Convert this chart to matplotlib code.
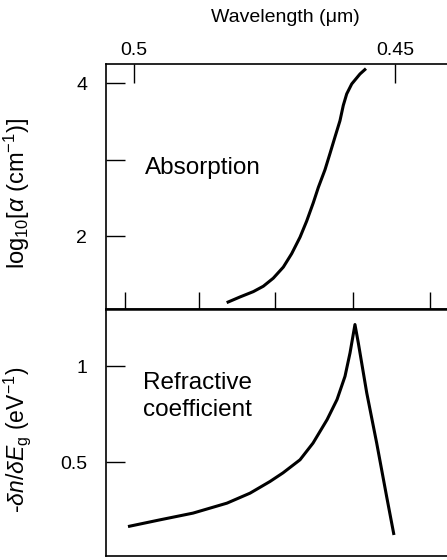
import matplotlib
matplotlib.use('Agg')
import matplotlib.pyplot as plt

plt.rcParams['font.family'] = ['Liberation Sans', 'DejaVu Sans']
plt.rcParams['mathtext.fontset'] = 'custom'
plt.rcParams['mathtext.rm'] = 'Liberation Sans'
plt.rcParams['mathtext.it'] = 'Liberation Sans:italic'

# photon energy (eV) vs log10 of absorption coefficient
abs_energy = [2.5782, 2.5922, 2.6063, 2.6168, 2.6273, 2.6379, 2.6467, 2.6555, 2.6625, 2.6695,
              2.6748, 2.6818, 2.6871, 2.6924, 2.6976, 2.7011, 2.7047, 2.7100, 2.7187, 2.7250]
abs_log_alpha = [1.136, 1.210, 1.280, 1.350, 1.455, 1.600, 1.775, 1.990, 2.200, 2.440,
                 2.640, 2.870, 3.083, 3.300, 3.510, 3.710, 3.860, 3.990, 4.120, 4.190]

# photon energy (eV) vs refractive coefficient -dn/dEg (1/eV)
ref_energy = [2.4742, 2.5079, 2.5427, 2.5785, 2.6028, 2.6239, 2.6376, 2.6555, 2.6692, 2.6840,
              2.6945, 2.7029, 2.7082, 2.7134, 2.7169, 2.7258, 2.7363, 2.7468, 2.7545]
ref_coeff = [0.165, 0.200, 0.235, 0.287, 0.339, 0.400, 0.445, 0.513, 0.600, 0.722,
             0.827, 0.948, 1.070, 1.218, 1.123, 0.862, 0.600, 0.321, 0.121]

wavelength_ticks = [0.5, 0.45]          # um
wavelength_labels = ['0.5', '0.45']
energy_ticks = [2.471, 2.549, 2.629, 2.711, 2.7925]   # unlabelled ticks on shared edge

xlim = (2.4510, 2.8104)

fig = plt.figure(figsize=(4.47, 5.6), dpi=100)
ax1 = fig.add_axes([0.2371, 0.4482, 0.7629, 0.4375])
ax2 = fig.add_axes([0.2371, 0.00714, 0.7629, 0.4411])

# --- absorption panel
ax1.plot(abs_energy, abs_log_alpha, color='black', lw=2.2, solid_capstyle='butt')
ax1.set_xlim(*xlim)
ax1.set_ylim(1.053, 4.25)
ax1.set_yticks([2, 3, 4])
ax1.set_yticklabels(['2', '', '4'])
ax1.tick_params(axis='y', direction='in', length=14, width=1, pad=13.5, labelsize=14)
ax1.xaxis.tick_top()
ax1.set_xticks([1.24 / w for w in wavelength_ticks])
ax1.set_xticklabels(wavelength_labels)
ax1.tick_params(axis='x', direction='in', length=14, width=1, pad=3.5, labelsize=14,
                top=True, bottom=False)
ax1.spines['right'].set_visible(False)
ax1.spines['bottom'].set_linewidth(1.8)
for s in ['left', 'top']:
    ax1.spines[s].set_linewidth(1.2)
ax1.set_ylabel(r'log$_{10}$[$\alpha$ (cm$^{-1}$)]', fontsize=17)
ax1.yaxis.set_label_coords(-0.217, 0.471)
ax1.text(0.1144, 0.5755, 'Absorption', transform=ax1.transAxes, fontsize=17.5, va='center')

fig.text(285 / 447, 1 - 18 / 560, 'Wavelength (μm)', fontsize=14, ha='center', va='center')

# energy ticks along the shared edge, pointing up into the absorption panel
sec = ax1.secondary_xaxis('bottom')
sec.set_xticks(energy_ticks)
sec.set_xticklabels([])
sec.tick_params(direction='in', length=12.5, width=1)
sec.spines['bottom'].set_visible(False)

# --- refractive coefficient panel
ax2.plot(ref_energy, ref_coeff, color='black', lw=2.2, solid_capstyle='butt')
ax2.set_xlim(*xlim)
ax2.set_ylim(0.0115, 1.299)
ax2.set_yticks([0.5, 1])
ax2.set_yticklabels(['0.5', '1'])
ax2.tick_params(axis='y', direction='in', length=14, width=1, pad=13.5, labelsize=14)
ax2.set_xticks([])
ax2.spines['right'].set_visible(False)
ax2.spines['top'].set_linewidth(1.8)
for s in ['left', 'bottom']:
    ax2.spines[s].set_linewidth(1.2)
ax2.set_ylabel(r'-$\delta n/\delta E_{\rm g}$ (eV$^{-1}$)', fontsize=16.5)
ax2.yaxis.set_label_coords(-0.214, 0.47)
ax2.text(0.1085, 0.6457, 'Refractive\ncoefficient', transform=ax2.transAxes, fontsize=17.5,
         va='center', linespacing=1.3)

fig.savefig('out.png', dpi=100)
